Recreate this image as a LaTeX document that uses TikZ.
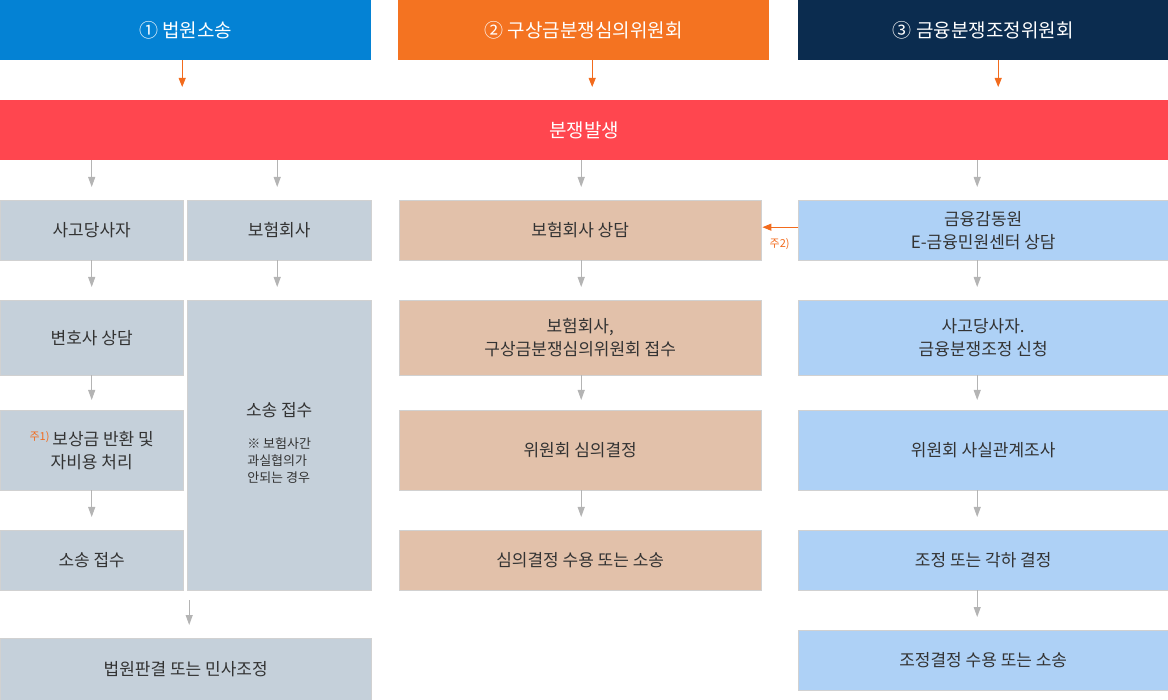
\documentclass[tikz,border=0pt]{standalone}
\usepackage{fontspec}
\setmainfont{Noto Sans CJK KR}
\usetikzlibrary{arrows.meta}
\definecolor{headblue}{HTML}{0482D4}
\definecolor{headorange}{HTML}{F47321}
\definecolor{headnavy}{HTML}{0B2C4F}
\definecolor{alarmred}{HTML}{FF464F}
\definecolor{courtgray}{HTML}{C5D0DA}
\definecolor{ctan}{HTML}{E2C1AA}
\definecolor{fssblue}{HTML}{AED1F6}
\definecolor{linegray}{HTML}{B4B4B4}
\definecolor{notered}{HTML}{F26B1D}
\definecolor{txt}{HTML}{333333}
\begin{document}
\begin{tikzpicture}[x=1pt, y=-1pt,
    head/.style={rectangle, anchor=north west, inner sep=0pt, minimum height=60pt, text=white, font=\fontsize{19}{22}\selectfont},
    box/.style={rectangle, anchor=north west, inner sep=0pt, draw=black!18, text=txt, align=center, font=\fontsize{17}{23}\selectfont},
    court/.style={box, fill=courtgray},
    claim/.style={box, fill=ctan},
    fss/.style={box, fill=fssblue},
    oarrow/.style={-{Triangle[width=7pt, length=9pt]}, notered, line width=1pt},
    garrow/.style={-{Triangle[width=7pt, length=10pt]}, linegray, line width=1pt},
    note/.style={text=notered, font=\fontsize{11}{12}\selectfont}
]
    \useasboundingbox (0,0) rectangle (1168,700);
    % headers
    \node[head, fill=headblue, minimum width=371pt] (court) at (0,0) {① 법원소송};
    \node[head, fill=headorange, minimum width=371pt] (claim) at (398,0) {② 구상금분쟁심의위원회};
    \node[head, fill=headnavy, minimum width=370pt] (fsc) at (798,0) {③ 금융분쟁조정위원회};
    % dispute
    \node[head, fill=alarmred, minimum width=1168pt] (dispute) at (0,100) {분쟁발생};
    % column 1
    \node[court, minimum width=183pt, minimum height=60pt] (party) at (0,200) {사고당사자};
    \node[court, minimum width=184pt, minimum height=60pt] (insurer) at (187,200) {보험회사};
    \node[court, minimum width=183pt, minimum height=75pt] (lawyer) at (0,300) {변호사 상담};
    \node[court, minimum width=184pt, minimum height=290pt] (suit) at (187,300)
        {소송 접수\\[18pt]{\fontsize{13}{17}\selectfont\begin{tabular}{@{}l@{}}※ 보험사간\\과실협의가\\안되는 경우\end{tabular}}};
    \node[court, minimum width=183pt, minimum height=80pt] (refund) at (0,410)
        {\raisebox{5pt}{\fontsize{11}{12}\selectfont\color{notered}주1)}\,보상금 반환 및\\자비용 처리};
    \node[court, minimum width=183pt, minimum height=60pt] (filing) at (0,530) {소송 접수};
    \node[court, minimum width=371pt, minimum height=62pt] (verdict) at (0,638) {법원판결 또는 민사조정};
    % column 2
    \node[claim, minimum width=362pt, minimum height=60pt] (consult) at (399,200) {보험회사 상담};
    \node[claim, minimum width=362pt, minimum height=75pt] (receipt) at (399,300) {보험회사,\\구상금분쟁심의위원회 접수};
    \node[claim, minimum width=362pt, minimum height=80pt] (review) at (399,410) {위원회 심의결정};
    \node[claim, minimum width=362pt, minimum height=60pt] (accept) at (399,530) {심의결정 수용 또는 소송};
    % column 3
    \node[fss, minimum width=370pt, minimum height=60pt] (center) at (798,200) {금융감동원\\E-금융민원센터 상담};
    \node[fss, minimum width=370pt, minimum height=75pt] (apply) at (798,300) {사고당사자.\\금융분쟁조정 신청};
    \node[fss, minimum width=370pt, minimum height=80pt] (survey) at (798,410) {위원회 사실관계조사};
    \node[fss, minimum width=370pt, minimum height=60pt] (decide) at (798,530) {조정 또는 각하 결정};
    \node[fss, minimum width=370pt, minimum height=60pt] (final) at (798,630) {조정결정 수용 또는 소송};
    % header arrows
    \draw[oarrow, shorten >=13pt] ([xshift=-3.5pt]court.south) -- ([xshift=-3.5pt]court.south |- dispute.north);
    \draw[oarrow, shorten >=13pt] ([xshift=8.5pt]claim.south) -- ([xshift=8.5pt]claim.south |- dispute.north);
    \draw[oarrow, shorten >=13pt] ([xshift=15pt]fsc.south) -- ([xshift=15pt]fsc.south |- dispute.north);
    % from dispute
    \foreach \col/\dx in {party/0, insurer/-2, consult/1, center/-6}
        \draw[garrow, shorten >=13pt] ([xshift=\dx pt]\col.north |- dispute.south) -- ([xshift=\dx pt]\col.north);
    % flow arrows
    \draw[garrow, shorten >=13pt] (party) -- (lawyer);
    \draw[garrow, shorten >=13pt] ([xshift=-2pt]insurer.south) -- ([xshift=-2pt]suit.north);
    \draw[garrow, shorten >=10pt] (lawyer) -- (refund);
    \draw[garrow, shorten >=13pt] (refund) -- (filing);
    \draw[garrow, shorten <=10pt, shorten >=13pt] ([xshift=3.5pt]verdict.north |- suit.south) -- ([xshift=3.5pt]verdict.north);
    \draw[garrow, shorten >=13pt] ([xshift=1pt]consult.south) -- ([xshift=1pt]receipt.north);
    \draw[garrow, shorten >=10pt] ([xshift=1pt]receipt.south) -- ([xshift=1pt]review.north);
    \draw[garrow, shorten >=13pt] ([xshift=1pt]review.south) -- ([xshift=1pt]accept.north);
    \draw[garrow, shorten >=13pt] ([xshift=-6pt]center.south) -- ([xshift=-6pt]apply.north);
    \draw[garrow, shorten >=10pt] ([xshift=-6pt]apply.south) -- ([xshift=-6pt]survey.north);
    \draw[garrow, shorten >=13pt] ([xshift=-6pt]survey.south) -- ([xshift=-6pt]decide.north);
    \draw[garrow, shorten >=13pt] ([xshift=-6pt]decide.south) -- ([xshift=-6pt]final.north);
    % note 2
    \draw[oarrow, shorten >=1pt] ([yshift=3pt]center.west) -- node[note, below=7pt] {주2)} ([yshift=3pt]consult.east);
\end{tikzpicture}
\end{document}
